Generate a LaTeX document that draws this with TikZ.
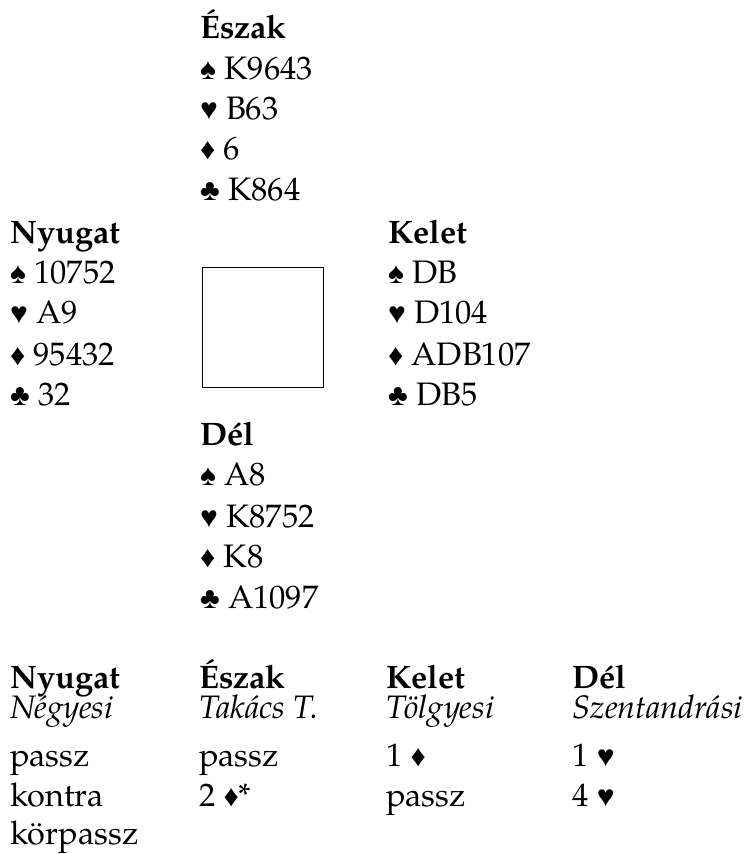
\documentclass[tikz,border=0pt]{standalone}
\usepackage{fontspec}
\setmainfont{TeX Gyre Pagella}
\newfontfamily\suitfont{Liberation Serif}
\newcommand{\Sp}{{\suitfont\fontsize{30}{34}\selectfont ♠}}
\newcommand{\Hz}{{\suitfont\fontsize{30}{34}\selectfont ♥}}
\newcommand{\Dm}{{\suitfont\fontsize{30}{34}\selectfont ♦}}
\newcommand{\Cb}{{\suitfont\fontsize{30}{34}\selectfont ♣}}
\begin{document}
\begin{tikzpicture}[x=1pt,y=1pt,
  txt/.style={anchor=base west,inner sep=0pt,font=\fontsize{32.5}{38}\selectfont},
  hd/.style={txt,font=\fontsize{32.5}{38}\selectfont\bfseries},
  nm/.style={txt,font=\fontsize{32.5}{38}\selectfont\itshape},
  tablebox/.style={draw,line width=1pt,minimum width=121pt,minimum height=120pt,inner sep=0pt}]
\useasboundingbox (0,0) rectangle (747,-854);
% North
\node[hd] (nH) at (200,-38) {Észak};
\node[txt] (nS) at (200,-79) {\Sp\ K9643};
\node[txt] (nHe) at (200,-119) {\Hz\ B63};
\node[txt] (nD) at (200,-159) {\Dm\ 6};
\node[txt] (nC) at (200,-200) {\Cb\ K864};
% West
\node[hd] (wH) at (10,-243) {Nyugat};
\node[txt] (wS) at (10,-283) {\Sp\ 10752};
\node[txt] (wHe) at (10,-323) {\Hz\ A9};
\node[txt] (wD) at (10,-365) {\Dm\ 95432};
\node[txt] (wC) at (10,-405) {\Cb\ 32};
% East
\node[hd] (eH) at (388,-243) {Kelet};
\node[txt] (eS) at (388,-283) {\Sp\ DB};
\node[txt] (eHe) at (388,-323) {\Hz\ D104};
\node[txt] (eD) at (388,-365) {\Dm\ ADB107};
\node[txt] (eC) at (388,-405) {\Cb\ DB5};
% table
\node[tablebox] (tbl) at (263,-327.5) {};
% South
\node[hd] (sH) at (200,-445) {Dél};
\node[txt] (sS) at (200,-485) {\Sp\ A8};
\node[txt] (sHe) at (200,-527) {\Hz\ K8752};
\node[txt] (sD) at (200,-567) {\Dm\ K8};
\node[txt] (sC) at (200,-608) {\Cb\ A1097};
% bidding
\node[hd] (b11) at (10,-688) {Nyugat};
\node[hd] (b12) at (199,-688) {Észak};
\node[hd] (b13) at (386,-688) {Kelet};
\node[nm] (b21) at (10,-718) {Négyesi};
\node[nm] (b22) at (199,-718) {Takács T.};
\node[nm] (b23) at (386,-718) {Tölgyesi};
\node[nm,anchor=base east] (b24) at (743,-718) {Szentandrási};
\node[hd] (b14) at (b24.base west |- 0,-688) {Dél};
\node[txt] (b31) at (10,-766) {passz};
\node[txt] (b32) at (199,-766) {passz};
\node[txt] (b33) at (386,-766) {1 \Dm};
\node[txt] (b34) at (b24.base west |- 0,-766) {1 \Hz};
\node[txt] (b41) at (10,-806) {kontra};
\node[txt] (b42) at (199,-806) {2 \Dm*};
\node[txt] (b43) at (386,-806) {passz};
\node[txt] (b44) at (b24.base west |- 0,-806) {4 \Hz};
\node[txt] (b51) at (10,-844) {körpassz};
\end{tikzpicture}
\end{document}
